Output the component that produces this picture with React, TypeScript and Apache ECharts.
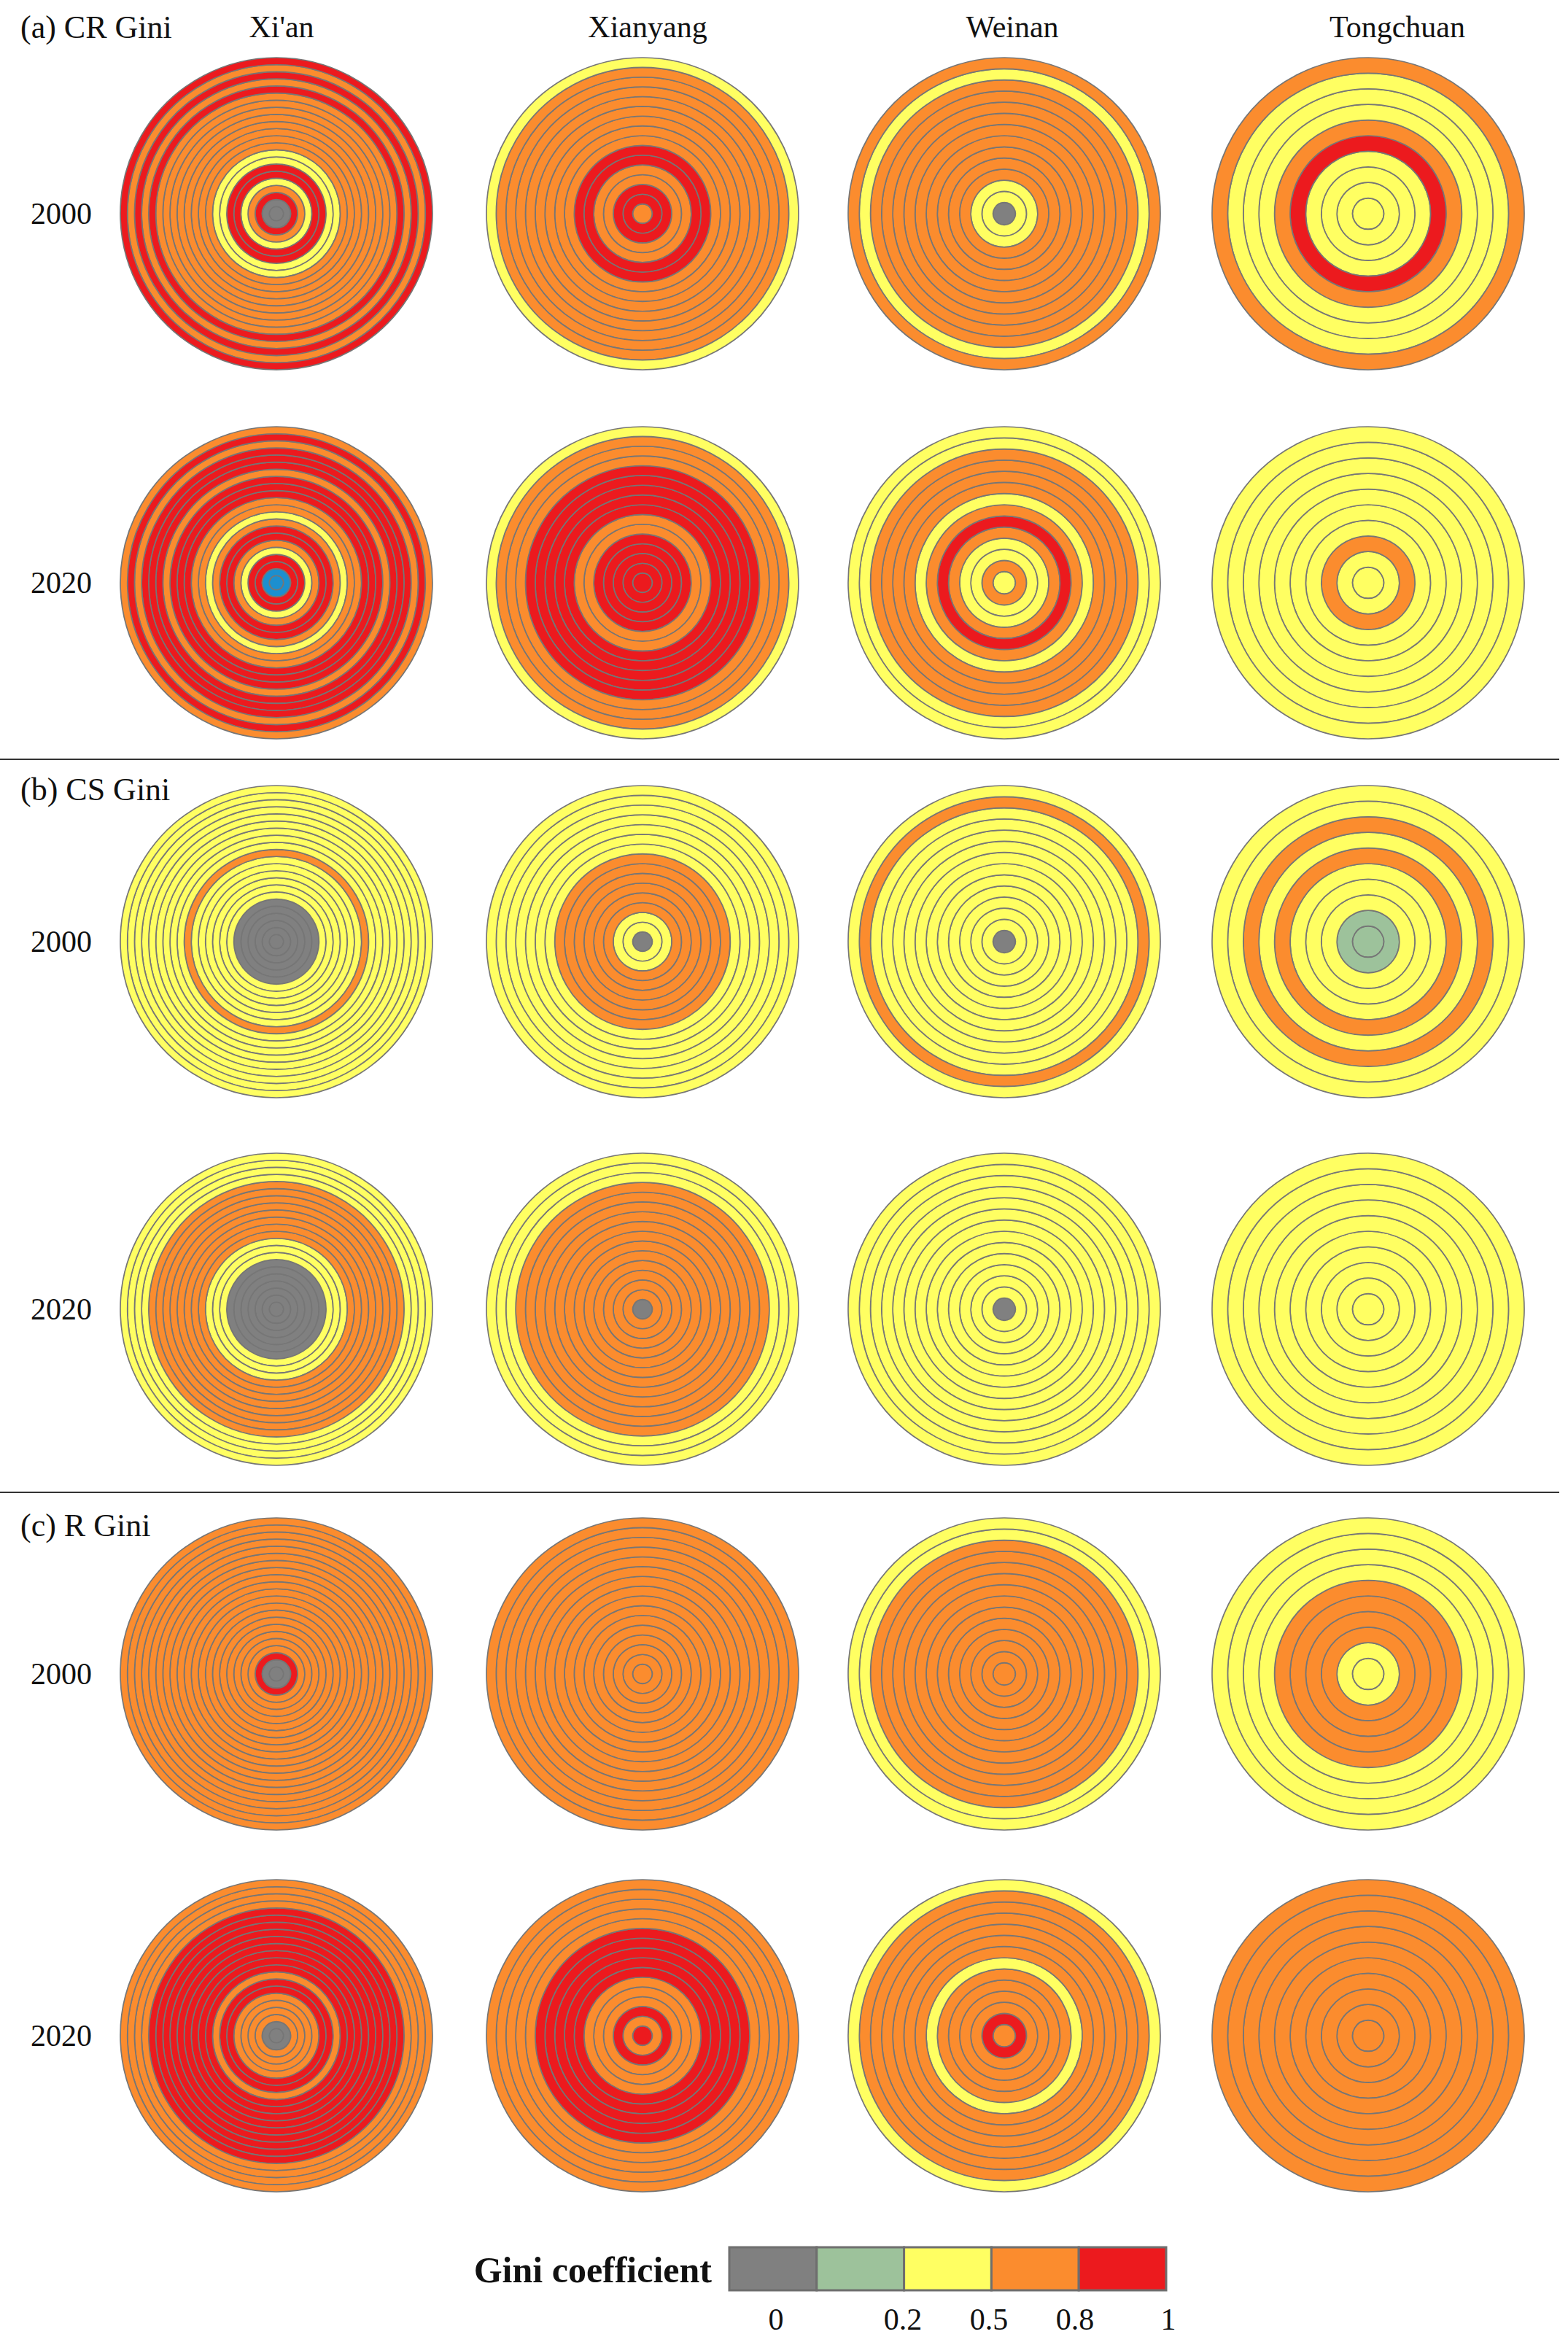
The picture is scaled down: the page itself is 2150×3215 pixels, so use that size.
import React, { useEffect, useRef } from 'react';
import * as echarts from 'echarts';

// ---------- data ----------
const panelTitles = ['(a) CR Gini', '(b) CS Gini', '(c) R Gini'];
const cities = ["Xi'an", 'Xianyang', 'Weinan', 'Tongchuan'];
const years = ['2000', '2020'];

// Gini class of each ring, from the centre ring outwards.
// G: 0 (grey), N: 0-0.2 (green), Y: 0.2-0.5, O: 0.5-0.8, R: 0.8-1, B: blue (outlier)
const crXian2000 = 'GGROYRRYYOOOOOOOOROROR';
const crXianyang2000 = 'ORROORROOOOOOOOY';
const crWeinan2000 = 'GYYOOOOOOOOOYO';
const crTongchuan2000 = 'YYYYROYYYO';
const crXian2020 = 'BBRRYORROYOORRRORRRORO';
const crXianyang2020 = 'RRRRROORRRRROOOY';
const crWeinan2020 = 'YOYYOROYOOOOYY';
const crTongchuan2020 = 'YYOYYYYYYY';

const csXian2000 = 'GGGGGGYYYYYYOYYYYYYYYY';
const csXianyang2000 = 'GYYOOOOOOYYYYYYY';
const csWeinan2000 = 'GYYYYYYYYYYYOY';
const csTongchuan2000 = 'NNYYYOYOYY';
const csXian2020 = 'GGGGGGGYYYOOOOOOOOYYYY';
const csXianyang2020 = 'GOOOOOOOOOOOOYYY';
const csWeinan2020 = 'GYYYYYYYYYYYYY';
const csTongchuan2020 = 'YYYYYYYYYY';

const rXian2000 = 'GGROOOOOOOOOOOOOOOOOOO';
const rXianyang2000 = 'OOOOOOOOOOOOOOOO';
const rWeinan2000 = 'OOOOOOOOOOOOYY';
const rTongchuan2000 = 'YYOOOOYYYY';
const rXian2020 = 'GGOOOORRORRRRRRRRROOOO';
const rXianyang2020 = 'ROROOORRRRROOOOO';
const rWeinan2020 = 'OROOOOYOOOOOOY';
const rTongchuan2020 = 'OOOOOOOOOO';

const panelRows: string[][] = [
  [crXian2000, crXianyang2000, crWeinan2000, crTongchuan2000],
  [crXian2020, crXianyang2020, crWeinan2020, crTongchuan2020],
  [csXian2000, csXianyang2000, csWeinan2000, csTongchuan2000],
  [csXian2020, csXianyang2020, csWeinan2020, csTongchuan2020],
  [rXian2000, rXianyang2000, rWeinan2000, rTongchuan2000],
  [rXian2020, rXianyang2020, rWeinan2020, rTongchuan2020],
];

const legendClasses = ['G', 'N', 'Y', 'O', 'R'];
const legendTicks = ['0', '0.2', '0.5', '0.8', '1'];

// ---------- styles ----------
const COLORS: Record<string, string> = {
  G: '#808080',
  N: '#9dc29b',
  Y: '#ffff62',
  O: '#fb8c2e',
  R: '#ec1a1e',
  B: '#1c8fcf',
};
const W = 2150;
const H = 3215;
const colX = [379, 881, 1377, 1876];
const rowY = [293, 799, 1291, 1795, 2295, 2791];
const RADIUS = 214;
const FONT = 'Liberation Serif, Times New Roman, serif';

function buildOption() {
  const polar: any[] = [];
  const radiusAxis: any[] = [];
  const angleAxis: any[] = [];
  const series: any[] = [];
  let idx = 0;
  panelRows.forEach((row, r) => {
    row.forEach((rings, c) => {
      const codes = rings.split('');
      polar.push({ center: [colX[c], rowY[r]], radius: [0, RADIUS] });
      radiusAxis.push({
        polarIndex: idx,
        type: 'category',
        data: codes.map((_, k) => String(k)),
        show: false,
      });
      angleAxis.push({ polarIndex: idx, type: 'value', min: 0, max: 1, show: false, startAngle: 90 });
      series.push({
        type: 'bar',
        coordinateSystem: 'polar',
        polarIndex: idx,
        barCategoryGap: '0%',
        silent: true,
        itemStyle: { borderColor: '#767676', borderWidth: 1.7 },
        data: codes.map((code) => ({ value: 1, itemStyle: { color: COLORS[code] } })),
      });
      idx++;
    });
  });

  const graphic: any[] = [];
  const text = (t: string, x: number, y: number, size: number, align = 'center', weight = 'normal') =>
    graphic.push({
      type: 'text',
      x,
      y,
      silent: true,
      style: {
        text: t,
        fontSize: size,
        fontFamily: FONT,
        fontWeight: weight,
        fill: '#111',
        align,
        verticalAlign: 'middle',
      },
    });

  const titleY = [37, 1082, 2091];
  panelTitles.forEach((t, i) => text(t, 28, titleY[i], 44, 'left'));
  const headerX = [386, 888, 1388, 1916];
  cities.forEach((c, i) => text(c, headerX[i], 37, 42));
  rowY.forEach((y, i) => text(years[i % 2], 84, y, 42));

  [1041, 2046].forEach((y) =>
    graphic.push({
      type: 'line',
      silent: true,
      shape: { x1: 0, y1: y, x2: 2138, y2: y },
      style: { stroke: '#333', lineWidth: 2 },
    })
  );

  // legend
  text('Gini coefficient', 976, 3112, 50, 'right', 'bold');
  const lx0 = 1000;
  const bw = 119.8;
  legendClasses.forEach((code, i) =>
    graphic.push({
      type: 'rect',
      silent: true,
      shape: { x: lx0 + i * bw, y: 3081, width: bw, height: 59 },
      style: { fill: COLORS[code], stroke: '#6e6e6e', lineWidth: 3 },
    })
  );
  const tickX = [1064, 1238, 1356, 1474, 1602];
  legendTicks.forEach((t, i) => text(t, tickX[i], 3180, 42));

  return {
    animation: false,
    backgroundColor: '#ffffff',
    polar,
    radiusAxis,
    angleAxis,
    series,
    graphic,
  };
}

export default function App() {
  const ref = useRef<HTMLDivElement>(null);
  useEffect(() => {
    document.body.style.margin = '0';
    const chart = echarts.init(ref.current!, null, { renderer: 'svg' });
    chart.setOption(buildOption());
    return () => chart.dispose();
  }, []);
  return <div ref={ref} style={{ width: W, height: H }} />;
}
